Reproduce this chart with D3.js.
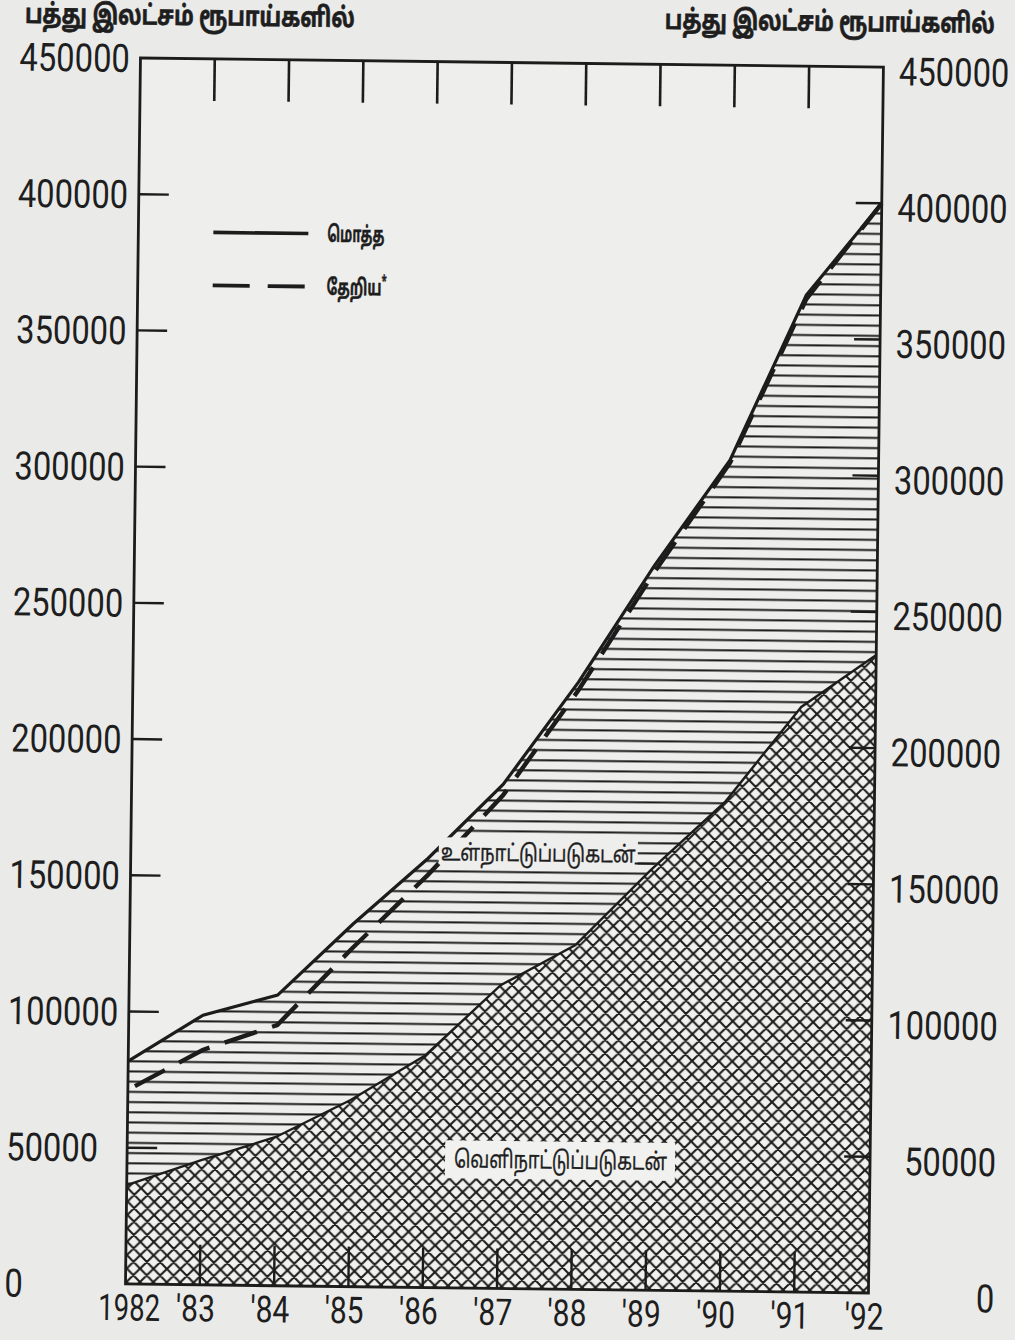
<!DOCTYPE html>
<html>
<head>
<meta charset="utf-8">
<script src="https://cdn.jsdelivr.net/npm/d3@7"></script>
<style>
  html, body { margin: 0; padding: 0; background: #eaeae9; }
  svg { display: block; }
</style>
</head>
<body>
<svg id="chart" width="1015" height="1340"></svg>
<script>
// ---- data (millions of rupees) ----
const years = [1982, 1983, 1984, 1985, 1986, 1987, 1988, 1989, 1990, 1991, 1992];
const yearLabels = ["1982", "'83", "'84", "'85", "'86", "'87", "'88", "'89", "'90", "'91", "'92"];
const totalDebt = [81800, 99000, 106700, 133000, 157500, 185000, 223000, 266000, 305000, 366000, 400000];
const netDebt = [71200, 86200, 95700, 124300, 151400, 181000, 220000, 263600, 304000, 364500, 400000];
const foreignDebt = [36300, 45800, 54600, 68500, 85300, 111300, 126400, 154200, 179900, 214800, 234200];
const yTicks = [0, 50000, 100000, 150000, 200000, 250000, 300000, 350000, 400000, 450000];
const axisTitle = "பத்து இலட்சம் ரூபாய்களில்";
const legendLabels = ["மொத்த", "தேறிய"];
const domesticLabel = "உள்நாட்டுப்படுகடன்";
const foreignLabel = "வெளிநாட்டுப்படுகடன்";

const svg = d3.select("#chart");
const ink = "#1c1c1c";
const txt = "#1e1e1e";
const tamilFont = "'Noto Sans Tamil', 'Lohit Tamil', 'Noto Sans Tamil UI', 'Latha', 'Noto Sans', sans-serif";
const numFont = "Roboto, 'DejaVu Sans', sans-serif";

const L = 133, R = 876, T = 62.5, B = 1288.5;
const x = d3.scaleLinear().domain([1982, 1992]).range([L, R]);
const y = d3.scaleLinear().domain([0, 450000]).range([B, T]);

// patterns
const defs = svg.append("defs");
const hatch = defs.append("pattern").attr("id", "hatch")
  .attr("patternUnits", "userSpaceOnUse").attr("width", 20).attr("height", 10.2);
hatch.append("line").attr("x1", 0).attr("x2", 20).attr("y1", 5).attr("y2", 5)
  .attr("stroke", ink).attr("stroke-width", 2);
const cs = 13.4;
const cross = defs.append("pattern").attr("id", "cross")
  .attr("patternUnits", "userSpaceOnUse").attr("width", cs).attr("height", cs);
cross.append("rect").attr("width", cs).attr("height", cs).attr("fill", "#f1f1f0");
cross.append("path")
  .attr("d", `M-2,2 L2,-2 M0,${cs} L${cs},0 M${cs-2},${cs+2} L${cs+2},${cs-2} M-2,${cs-2} L2,${cs+2} M0,0 L${cs},${cs} M${cs-2},-2 L${cs+2},2`)
  .attr("stroke", ink).attr("stroke-width", 2.1).attr("fill", "none");

const g = svg.append("g").attr("transform", "rotate(0.7, 505, 672)");

// fit a text to a target width with a horizontal scale
function fitText(sel, px, py, target) {
  sel.attr("x", 0).attr("y", 0);
  const w = sel.node().getComputedTextLength();
  const s = target / w;
  sel.attr("transform", `translate(${px},${py}) scale(${s},1)`);
  return sel;
}

// plot background
g.append("rect").attr("x", L).attr("y", T).attr("width", R - L).attr("height", B - T)
  .attr("fill", "#eeeeed");

const idx = d3.range(years.length);
// domestic (between foreign and total) horizontal hatching
g.append("path").datum(idx)
  .attr("d", d3.area().x(i => x(years[i])).y0(i => y(foreignDebt[i])).y1(i => y(totalDebt[i])))
  .attr("fill", "url(#hatch)");
// foreign cross-hatch
g.append("path").datum(idx)
  .attr("d", d3.area().x(i => x(years[i])).y0(() => y(0)).y1(i => y(foreignDebt[i])))
  .attr("fill", "url(#cross)");
g.append("path").datum(idx)
  .attr("d", d3.line().x(i => x(years[i])).y(i => y(foreignDebt[i])))
  .attr("fill", "none").attr("stroke", ink).attr("stroke-width", 2.4);

// total line
g.append("path").datum(idx)
  .attr("d", d3.line().x(i => x(years[i])).y(i => y(totalDebt[i])))
  .attr("fill", "none").attr("stroke", ink).attr("stroke-width", 3.2);
// net (dashed)
g.append("path").datum(idx)
  .attr("d", d3.line().x(i => x(years[i])).y(i => y(netDebt[i])))
  .attr("fill", "none").attr("stroke", ink).attr("stroke-width", 4.4)
  .attr("stroke-dasharray", "34,16").attr("stroke-dashoffset", -8);

// frame
g.append("rect").attr("x", L).attr("y", T).attr("width", R - L).attr("height", B - T)
  .attr("fill", "none").attr("stroke", ink).attr("stroke-width", 2.8);

// year ticks top & bottom
const innerYears = years.slice(1, -1);
g.selectAll(".ttick").data(innerYears).join("line")
  .attr("x1", d => x(d)).attr("x2", d => x(d)).attr("y1", T).attr("y2", T + 42)
  .attr("stroke", ink).attr("stroke-width", 2.6);
g.selectAll(".btick").data(innerYears).join("line")
  .attr("x1", d => x(d)).attr("x2", d => x(d)).attr("y1", B).attr("y2", B - 40)
  .attr("stroke", ink).attr("stroke-width", 2.4);

// value ticks (inside, both sides)
const innerTicks = yTicks.slice(1, -1);
g.selectAll(".ltick").data(innerTicks).join("line")
  .attr("x1", L).attr("x2", L + 30).attr("y1", d => y(d)).attr("y2", d => y(d))
  .attr("stroke", ink).attr("stroke-width", 2.4);
g.selectAll(".rtick").data(innerTicks).join("line")
  .attr("x1", R - 26).attr("x2", R).attr("y1", d => y(d)).attr("y2", d => y(d))
  .attr("stroke", ink).attr("stroke-width", 2.4);

// axis labels
const digitW = 18.4;
g.selectAll(".llab").data(yTicks).join("text")
  .attr("font-family", numFont).attr("font-size", 39).attr("fill", txt)
  .text(d => d)
  .each(function (d) { fitText(d3.select(this), 12, y(d) + 14, String(d).length * digitW); });
g.selectAll(".rlab").data(yTicks).join("text")
  .attr("text-anchor", "end")
  .attr("font-family", numFont).attr("font-size", 39).attr("fill", txt)
  .text(d => d)
  .each(function (d) { fitText(d3.select(this), 1002, y(d) + 18, String(d).length * digitW); });
g.selectAll(".xlab").data(idx).join("text")
  .attr("text-anchor", "middle")
  .attr("font-family", numFont).attr("font-size", 37).attr("fill", txt)
  .text(i => yearLabels[i])
  .each(function (i) { fitText(d3.select(this), x(years[i]) + (i === 0 ? 4 : -4), 1325, i === 0 ? 62 : 39); });

// axis titles
const boldTamil = s => s.attr("font-family", tamilFont).attr("font-weight", "bold")
  .attr("fill", txt).attr("stroke", txt).attr("stroke-width", 0.7);
fitText(boldTamil(g.append("text")).attr("font-size", 27).text(axisTitle), 17, 29, 330);
fitText(boldTamil(g.append("text")).attr("font-size", 27).text(axisTitle), 657, 27, 330);

// legend
g.append("line").attr("x1", 208).attr("x2", 303).attr("y1", 236).attr("y2", 236)
  .attr("stroke", ink).attr("stroke-width", 3.6);
g.append("line").attr("x1", 208).attr("x2", 300).attr("y1", 289).attr("y2", 289)
  .attr("stroke", ink).attr("stroke-width", 3.8).attr("stroke-dasharray", "37,18");
fitText(boldTamil(g.append("text")).attr("font-size", 22).attr("stroke-width", 0.5)
  .text(legendLabels[0]), 322, 244, 57);
const t2 = boldTamil(g.append("text")).attr("font-size", 22).attr("stroke-width", 0.5);
t2.append("tspan").text(legendLabels[1]);
t2.append("tspan").attr("dy", -9).attr("font-size", 15).text("*");
fitText(t2, 322, 297, 60);

// area labels
g.append("rect").attr("x", 441).attr("y", 838).attr("width", 199).attr("height", 27).attr("fill", "#eeeeed");
fitText(g.append("text").attr("font-family", tamilFont).attr("font-size", 23).attr("fill", txt)
  .attr("stroke", txt).attr("stroke-width", 0.35)
  .text(domesticLabel), 443, 861, 195);
g.append("line").attr("x1", 637).attr("x2", 657).attr("y1", 862).attr("y2", 862)
  .attr("stroke", ink).attr("stroke-width", 2);

g.append("rect").attr("x", 451).attr("y", 1141).attr("width", 230).attr("height", 38).attr("fill", "#f1f1f0");
fitText(g.append("text").attr("font-family", tamilFont).attr("font-size", 24).attr("fill", txt)
  .attr("stroke", txt).attr("stroke-width", 0.35)
  .text(foreignLabel), 460, 1168, 213);
</script>
</body>
</html>
